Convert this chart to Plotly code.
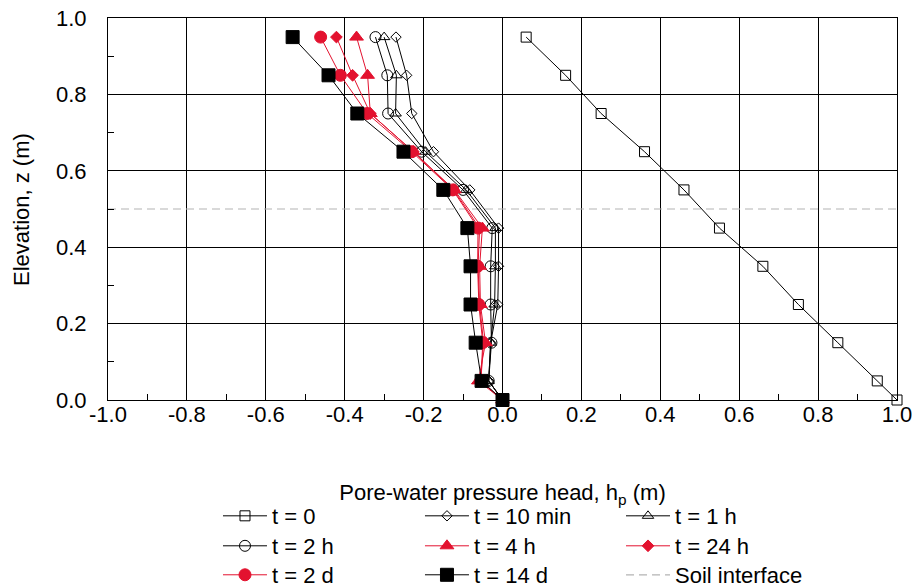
import plotly.graph_objects as go

# Elevations (m)
z = [0.95, 0.85, 0.75, 0.65, 0.55, 0.45, 0.35, 0.25, 0.15, 0.05, 0.0]

# Pore-water pressure head (m) for each time
t0 = [0.06, 0.16, 0.25, 0.36, 0.46, 0.55, 0.66, 0.75, 0.85, 0.95, 1.0]
t10min = [-0.27, -0.243, -0.23, -0.175, -0.083, -0.01, -0.01, -0.012, -0.03, -0.035, 0.0]
t1h = [-0.30, -0.269, -0.271, -0.195, -0.092, -0.018, -0.018, -0.02, -0.03, -0.035, 0.0]
t2h = [-0.322, -0.292, -0.29, -0.205, -0.10, -0.026, -0.03, -0.03, -0.028, -0.035, 0.0]
t4h = [-0.37, -0.342, -0.335, -0.226, -0.122, -0.051, -0.058, -0.056, -0.043, -0.061, 0.0]
t24h = [-0.421, -0.38, -0.335, -0.226, -0.124, -0.058, -0.062, -0.058, -0.048, -0.055, 0.0]
t2d = [-0.461, -0.411, -0.343, -0.23, -0.126, -0.062, -0.063, -0.06, -0.05, -0.055, 0.0]
t14d = [-0.532, -0.441, -0.368, -0.251, -0.15, -0.089, -0.081, -0.081, -0.068, -0.053, 0.0]

interface_x = [-1.0, 1.0]
interface_z = [0.5, 0.5]

# Tick labels
x_tickvals = [-1.0, -0.8, -0.6, -0.4, -0.2, 0.0, 0.2, 0.4, 0.6, 0.8, 1.0]
x_ticktext = ["-1.0", "-0.8", "-0.6", "-0.4", "-0.2", "0.0", "0.2", "0.4", "0.6", "0.8", "1.0"]
y_tickvals = [0.0, 0.2, 0.4, 0.6, 0.8, 1.0]
y_ticktext = ["0.0", "0.2", "0.4", "0.6", "0.8", "1.0"]

RED = "#e3122f"
BLACK = "#000000"
FONT = "Liberation Sans, Arial, sans-serif"
FS = 22

# name, values, symbol, size, colour, legend id
series = [
    ("t = 0", t0, "square-open", 10, BLACK, "legend"),
    ("t = 10 min", t10min, "diamond-open", 8, BLACK, "legend2"),
    ("t = 1 h", t1h, "triangle-up-open", 10, BLACK, "legend3"),
    ("t = 2 h", t2h, "circle-open", 11, BLACK, "legend4"),
    ("t = 4 h", t4h, "triangle-up", 12, RED, "legend5"),
    ("t = 24 h", t24h, "diamond", 9, RED, "legend6"),
    ("t = 2 d", t2d, "circle", 12, RED, "legend7"),
    ("t = 14 d", t14d, "square", 13, BLACK, "legend8"),
]

fig = go.Figure()

fig.add_trace(go.Scatter(
    x=interface_x, y=interface_z, mode="lines", name="Soil interface",
    line=dict(color="#b4b4b4", width=1.2, dash="8px,5px"),
    legend="legend9",
))

for name, xs, sym, size, col, leg in series:
    fig.add_trace(go.Scatter(
        x=xs, y=z, mode="lines+markers", name=name,
        line=dict(color=col, width=1),
        marker=dict(symbol=sym, size=size, color=col,
                    line=dict(color=col, width=1)),
        legend=leg, cliponaxis=False,
    ))

# legend grid positions (paper coords)
col_x = [0.1394, 0.3954, 0.6502]
row_y = [-0.3037, -0.3822, -0.4581]

def leg(ci, ri):
    return dict(font=dict(family=FONT, size=FS, color="#000"),
                bgcolor="rgba(0,0,0,0)", borderwidth=0,
                orientation="v", yanchor="middle", xanchor="left",
                itemwidth=44, x=col_x[ci], y=row_y[ri])

fig.update_layout(
    width=915, height=588,
    margin=dict(l=108, r=18, t=18, b=188, autoexpand=False),
    paper_bgcolor="white", plot_bgcolor="white",
    font=dict(family=FONT, size=FS, color="#000"),
    showlegend=True,
    legend=leg(0, 0), legend2=leg(1, 0), legend3=leg(2, 0),
    legend4=leg(0, 1), legend5=leg(1, 1), legend6=leg(2, 1),
    legend7=leg(0, 2), legend8=leg(1, 2), legend9=leg(2, 2),
    xaxis=dict(
        range=[-1.0, 1.0], tickvals=x_tickvals, ticktext=x_ticktext,
        showgrid=True, gridcolor="#000", gridwidth=1,
        showline=True, linecolor="#000", linewidth=1, mirror=True,
        zeroline=False, ticks="", ticklabelstandoff=-5,
        minor=dict(tickvals=[-0.9, -0.7, -0.5, -0.3, -0.1, 0.1, 0.3, 0.5, 0.7, 0.9],
                   ticks="inside", ticklen=6, tickcolor="#000", showgrid=False),
        title=dict(text="Pore-water pressure head, h<sub>p</sub> (m)",
                   standoff=58, font=dict(family=FONT, size=FS)),
        tickfont=dict(family=FONT, size=FS),
    ),
    yaxis=dict(
        range=[0.0, 1.0], tickvals=y_tickvals, ticktext=y_ticktext,
        showgrid=True, gridcolor="#000", gridwidth=1,
        showline=True, linecolor="#000", linewidth=1, mirror=True,
        zeroline=False, ticks="",
        minor=dict(tickvals=[0.1, 0.3, 0.5, 0.7, 0.9],
                   ticks="inside", ticklen=6, tickcolor="#000", showgrid=False),
        ticklabelstandoff=16,
        tickfont=dict(family=FONT, size=FS),
    ),
    annotations=[dict(
        text="Elevation, z (m)", textangle=-90, showarrow=False,
        xref="paper", yref="paper", x=-0.1103, y=0.5,
        xanchor="center", yanchor="middle",
        font=dict(family=FONT, size=FS, color="#000"),
    )],
)

fig.write_html("out.html")
